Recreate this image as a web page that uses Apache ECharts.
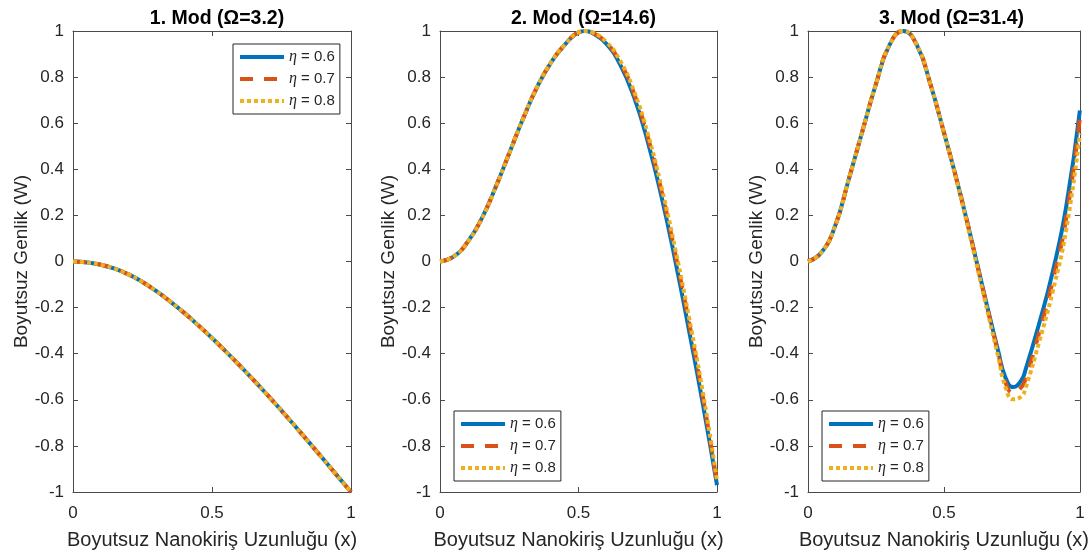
<!DOCTYPE html>
<html>
<head>
<meta charset="utf-8">
<script src="https://cdn.jsdelivr.net/npm/echarts@6/dist/echarts.min.js"></script>
<style>
  html, body { margin: 0; padding: 0; background: #fff; }
  #modes { width: 1092px; height: 555px; }
</style>
</head>
<body>
<div id="modes"></div>
<script>
// x positions along the beam, one list per mode (extra points near peaks)
const mod1X = [0, 0.05, 0.1, 0.15, 0.2, 0.25, 0.3, 0.35, 0.4, 0.45, 0.5,
               0.55, 0.6, 0.65, 0.7, 0.75, 0.8, 0.85, 0.9, 0.95, 1]
const mod2X = [0, 0.05, 0.1, 0.15, 0.2, 0.25, 0.3, 0.35, 0.4, 0.45, 0.5, 0.525,
               0.55, 0.6, 0.65, 0.7, 0.75, 0.8, 0.85, 0.9, 0.95, 1]
const mod3X = [0, 0.05, 0.1, 0.15, 0.2, 0.25, 0.3, 0.35, 0.4, 0.45, 0.5, 0.55,
               0.6, 0.65, 0.7, 0.725, 0.755, 0.785, 0.8, 0.85, 0.9, 0.95, 1]
const xTicks = [0, 0.5, 1]
const yTicks = [-1, -0.8, -0.6, -0.4, -0.2, 0, 0.2, 0.4, 0.6, 0.8, 1]

const titles = ['1. Mod (Ω=3.2)', '2. Mod (Ω=14.6)', '3. Mod (Ω=31.4)']
const etaNames = ['η = 0.6', 'η = 0.7', 'η = 0.8']

// mod 1
const mod1Eta06 = [0, -0.004, -0.014, -0.031, -0.056, -0.089, -0.129, -0.174, -0.223, -0.276, -0.332,
                   -0.391, -0.452, -0.515, -0.580, -0.647, -0.716, -0.786, -0.857, -0.929, -1.0]
const mod1Eta07 = [0, -0.004, -0.014, -0.031, -0.056, -0.089, -0.129, -0.174, -0.223, -0.276, -0.332,
                   -0.391, -0.452, -0.515, -0.580, -0.647, -0.716, -0.786, -0.857, -0.929, -1.0]
const mod1Eta08 = [0, -0.004, -0.014, -0.031, -0.056, -0.089, -0.129, -0.174, -0.223, -0.276, -0.332,
                   -0.391, -0.452, -0.515, -0.580, -0.647, -0.716, -0.786, -0.857, -0.929, -1.0]
// mod 2
const mod2Eta06 = [0, 0.022, 0.085, 0.185, 0.32, 0.47, 0.62, 0.755, 0.862, 0.94, 0.994, 1.0,
                   0.991, 0.945, 0.855, 0.715, 0.52, 0.28, 0.0, -0.305, -0.625, -0.97]
const mod2Eta07 = [0, 0.022, 0.085, 0.185, 0.32, 0.47, 0.62, 0.755, 0.862, 0.94, 0.994, 1.0,
                   0.993, 0.95, 0.865, 0.73, 0.54, 0.305, 0.03, -0.27, -0.595, -0.96]
const mod2Eta08 = [0, 0.022, 0.085, 0.184, 0.319, 0.47, 0.62, 0.755, 0.862, 0.94, 0.994, 1.0,
                   0.994, 0.953, 0.872, 0.74, 0.555, 0.32, 0.05, -0.25, -0.575, -0.95]
// mod 3
const mod3Eta06 = [0, 0.04, 0.155, 0.357, 0.565, 0.77, 0.94, 1.0, 0.94, 0.77, 0.56, 0.34,
                   0.10, -0.15, -0.39, -0.50, -0.545, -0.515, -0.47, -0.27, -0.045, 0.24, 0.655]
const mod3Eta07 = [0, 0.04, 0.155, 0.357, 0.565, 0.77, 0.94, 1.0, 0.94, 0.77, 0.56, 0.34,
                   0.10, -0.155, -0.40, -0.52, -0.57, -0.545, -0.51, -0.31, -0.085, 0.19, 0.625]
const mod3Eta08 = [0, 0.04, 0.155, 0.357, 0.565, 0.77, 0.94, 1.0, 0.94, 0.77, 0.56, 0.335,
                   0.09, -0.165, -0.415, -0.54, -0.598, -0.585, -0.55, -0.35, -0.13, 0.14, 0.555]

const modeX = [mod1X, mod2X, mod3X]
const modes = [
  [mod1Eta06, mod1Eta07, mod1Eta08],
  [mod2Eta06, mod2Eta07, mod2Eta08],
  [mod3Eta06, mod3Eta07, mod3Eta08]
]

// matlab default colours, solid / dashed / dotted
const lineColors = ['#0072BD', '#D95319', '#EDB120']
const lineTypes = ['solid', [13, 11], [4, 3]]

const gridLeft = [73, 440, 808]
const gridWidth = [278, 277, 277]
const legendPos = [[233, 44], [454, 411], [822, 411]]

const font = 'Liberation Sans, Arial, Helvetica, sans-serif'
const axisColor = '#4a4a4a'
const textColor = '#262626'

function zip(xs, vals) {
  return xs.map((x, i) => [x, vals[i]])
}

function tickText(v) {
  return String(Math.round(v * 10) / 10)
}

function xAxisFor(i, top) {
  return {
    type: 'value', gridIndex: i, position: top ? 'top' : 'bottom',
    min: xTicks[0], max: xTicks[xTicks.length - 1], interval: xTicks[1] - xTicks[0],
    axisLine: {show: true, onZero: false, lineStyle: {color: axisColor}},
    axisTick: {show: true, inside: true, length: 5, lineStyle: {color: axisColor}},
    axisLabel: {show: !top, margin: 13, color: textColor, fontSize: 17, fontFamily: font, formatter: tickText},
    splitLine: {show: false},
    name: top ? '' : 'Boyutsuz Nanokiriş Uzunluğu (x)',
    nameLocation: 'middle', nameGap: 38,
    nameTextStyle: {fontSize: 20, color: textColor, fontFamily: font}
  }
}

function yAxisFor(i, right) {
  return {
    type: 'value', gridIndex: i, position: right ? 'right' : 'left',
    min: yTicks[0], max: yTicks[yTicks.length - 1], interval: yTicks[1] - yTicks[0],
    axisLine: {show: true, onZero: false, lineStyle: {color: axisColor}},
    axisTick: {show: true, inside: true, length: 5, lineStyle: {color: axisColor}},
    axisLabel: {show: !right, margin: 9, color: textColor, fontSize: 17, fontFamily: font, formatter: tickText},
    splitLine: {show: false},
    name: right ? '' : 'Boyutsuz Genlik (W)',
    nameLocation: 'middle', nameGap: 40,
    nameTextStyle: {fontSize: 19, color: textColor, fontFamily: font}
  }
}

const grids = [], xAxes = [], yAxes = [], series = [], legends = [], title = []
for (let i = 0; i < 3; i++) {
  grids.push({left: gridLeft[i], width: gridWidth[i], top: 31, height: 462})
  xAxes.push(xAxisFor(i, false), xAxisFor(i, true))
  yAxes.push(yAxisFor(i, false), yAxisFor(i, true))
  title.push({
    text: titles[i], left: gridLeft[i] + gridWidth[i] / 2, top: 4, textAlign: 'center',
    textStyle: {fontSize: 19.5, fontWeight: 'bold', color: '#000', fontFamily: font}
  })
  legends.push({
    data: etaNames, orient: 'vertical',
    left: legendPos[i][0], top: legendPos[i][1],
    itemWidth: 44, itemHeight: 14, itemGap: 6,
    padding: [5, 5, 5, 5],
    borderColor: textColor, borderWidth: 1, backgroundColor: '#fff',
    itemStyle: {opacity: 0},
    lineStyle: {width: 4},
    formatter: name => '{e|η}' + name.slice(1),
    textStyle: {
      fontSize: 15, color: textColor, fontFamily: font,
      rich: {e: {fontSize: 16, fontStyle: 'italic', fontFamily: 'Liberation Serif, serif', color: textColor}}
    }
  })
  modes[i].forEach((vals, k) => {
    series.push({
      name: etaNames[k], type: 'line',
      xAxisIndex: 2 * i, yAxisIndex: 2 * i,
      data: zip(modeX[i], vals), smooth: true, symbol: 'none', clip: false,
      lineStyle: {color: lineColors[k], width: 4, type: lineTypes[k], cap: 'butt'},
      itemStyle: {color: lineColors[k]},
      z: 2 + k
    })
  })
}

const chart = echarts.init(document.getElementById('modes'))
chart.setOption({
  backgroundColor: '#fff',
  animation: false,
  title: title,
  grid: grids,
  xAxis: xAxes,
  yAxis: yAxes,
  legend: legends,
  series: series
})
</script>
</body>
</html>
